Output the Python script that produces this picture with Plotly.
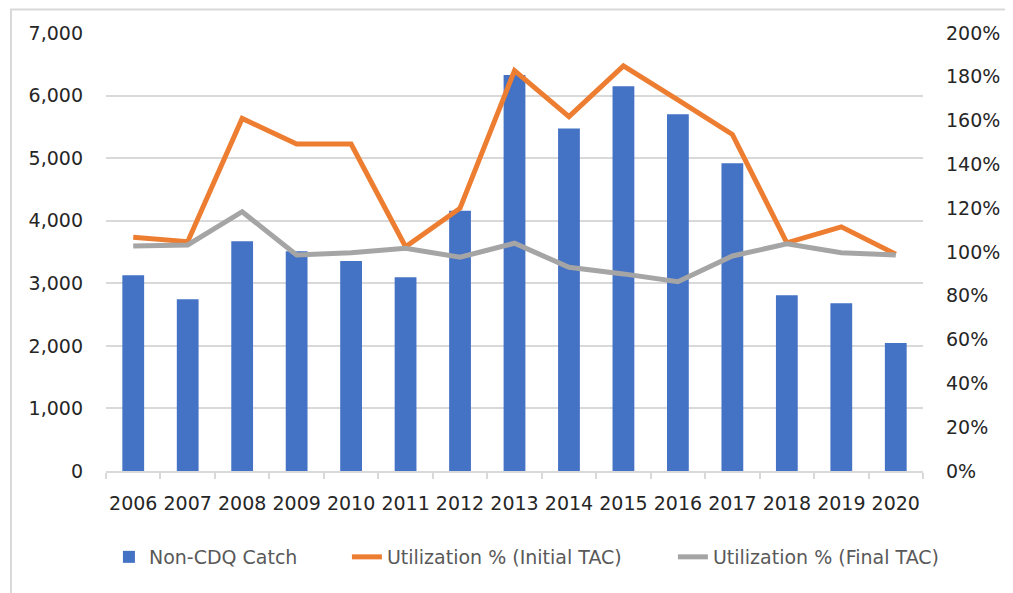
import plotly.graph_objects as go

years = ["2006", "2007", "2008", "2009", "2010", "2011", "2012", "2013",
         "2014", "2015", "2016", "2017", "2018", "2019", "2020"]
non_cdq_catch = [3130, 2745, 3670, 3510, 3355, 3095, 4160, 6330,
                 5475, 6150, 5700, 4920, 2810, 2680, 2045]
util_initial = [1.067, 1.047, 1.61, 1.493, 1.493, 1.024, 1.20, 1.828,
                1.618, 1.85, 1.695, 1.537, 1.042, 1.115, 0.99]
util_final = [1.027, 1.032, 1.184, 0.986, 0.997, 1.017, 0.976, 1.04,
              0.93, 0.90, 0.864, 0.982, 1.037, 0.997, 0.986]

FONT = "DejaVu Sans"
TICK_COLOR = "#262626"
OFF = 8  # default page body margin
W, H = 1013 - OFF, 593 - OFF
# plot area in screen pixels
SL, SR, ST, SB = 106, 923, 33, 471
L, R, T, B = SL - OFF, SR - OFF, ST - OFF, SB - OFF

fig = go.Figure()
fig.add_trace(go.Bar(x=years, y=non_cdq_catch, name="Non-CDQ Catch",
                     marker=dict(color="#4472C4", line=dict(width=0)),
                     yaxis="y", legendwidth=193))
fig.add_trace(go.Scatter(x=years, y=util_initial, name="Utilization % (Initial TAC)",
                         mode="lines", line=dict(color="#ED7D31", width=5),
                         yaxis="y2", legendwidth=281))
fig.add_trace(go.Scatter(x=years, y=util_final, name="Utilization % (Final TAC)",
                         mode="lines", line=dict(color="#A5A5A5", width=5),
                         yaxis="y2"))

pw, ph = SR - SL, SB - ST
def px_x(p):
    return (p - SL) / pw
def px_y(p):
    return (SB - p) / ph

fig.update_layout(
    width=W, height=H,
    margin=dict(l=L, r=W - R, t=T, b=H - B, pad=0, autoexpand=False),
    paper_bgcolor="white", plot_bgcolor="white",
    font=dict(family=FONT, size=19, color=TICK_COLOR),
    bargap=0.6,
    showlegend=True,
    legend=dict(orientation="h", x=-0.0001, xanchor="left",
                y=px_y(557), yanchor="middle",
                borderwidth=3, bordercolor="rgba(0,0,0,0)",
                font=dict(family=FONT, size=19, color="#595959"),
                itemwidth=30, tracegroupgap=0),
    xaxis=dict(type="category", showgrid=False, showline=True,
               linecolor="#D9D9D9", linewidth=1.5, automargin=False,
               ticks="outside", tickson="boundaries", ticklen=6,
               tickcolor="#D9D9D9", tickwidth=1.5, tickangle=0,
               tickfont=dict(family=FONT, size=19, color=TICK_COLOR),
               ticklabelstandoff=14),
    yaxis=dict(range=[0, 7000], dtick=1000, tickformat=",", automargin=False,
               showgrid=True, gridcolor="#D9D9D9", gridwidth=1.5,
               zeroline=False, showline=False, ticks="",
               tickfont=dict(family=FONT, size=19, color=TICK_COLOR),
               ticklabelstandoff=22),
    yaxis2=dict(range=[0, 2.0], dtick=0.2, tickformat=".0%", automargin=False,
                overlaying="y", side="right", showgrid=False,
                zeroline=False, showline=False, ticks="",
                tickfont=dict(family=FONT, size=19, color=TICK_COLOR),
                ticklabelstandoff=22),
    shapes=[dict(type="rect", xref="paper", yref="paper",
                 x0=px_x(11), x1=px_x(1030), y0=px_y(610), y1=px_y(9.5),
                 line=dict(color="#D9D9D9", width=2), fillcolor="rgba(0,0,0,0)",
                 layer="below")],
)

fig.write_html("out.html")
